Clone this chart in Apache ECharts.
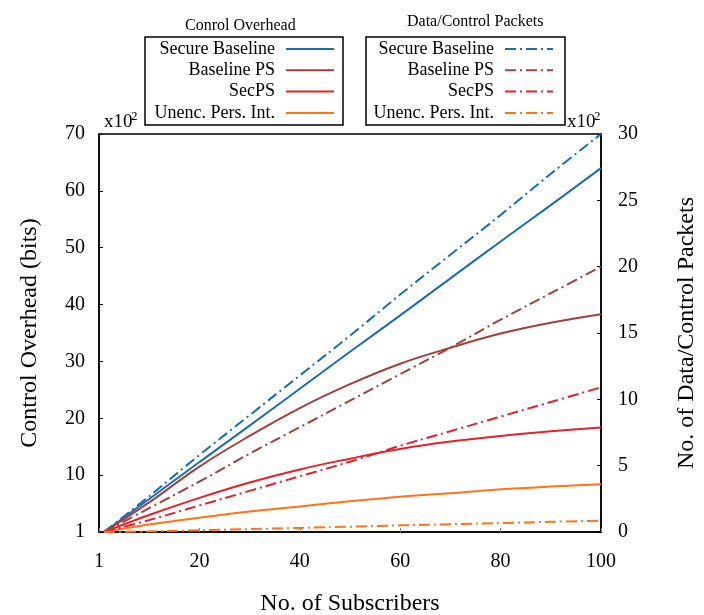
<!DOCTYPE html>
<html>
<head>
<meta charset="utf-8">
<script src="https://cdn.jsdelivr.net/npm/echarts@6/dist/echarts.min.js"></script>
<style>
html,body{margin:0;padding:0;background:#fff;}
#c{width:704px;height:615px;}
</style>
</head>
<body>
<div id="c"></div>
<script>
// Subscribers (x)
const subscribers = [1, 10, 20, 30, 40, 50, 60, 70, 80, 90, 100];
// Control overhead (bits, x10^2) - left axis, solid lines
const ctrlSecureBaseline = [0, 5.8, 12.3, 18.7, 25.2, 31.7, 38.1, 44.6, 51.1, 57.5, 64.0];
const ctrlBaselinePS     = [0, 5.2, 11.5, 16.9, 21.8, 26.0, 29.6, 32.4, 34.9, 36.8, 38.3];
const ctrlSecPS          = [0, 3.0, 6.0, 8.7, 11.0, 12.9, 14.6, 15.9, 16.9, 17.7, 18.4];
const ctrlUnenc          = [0, 1.3, 2.5, 3.6, 4.5, 5.4, 6.2, 6.8, 7.5, 8.0, 8.4];
// Data/Control packets (x10^2) - right axis, dash-dot lines
const pktSecureBaseline  = [0, 2.7, 5.8, 8.8, 11.8, 14.8, 17.9, 20.9, 23.9, 27.0, 30.0];
const pktBaselinePS      = [0, 1.8, 3.8, 5.9, 7.9, 9.9, 11.9, 13.9, 16.0, 18.0, 20.0];
const pktSecPS           = [0, 0.9, 2.0, 3.1, 4.2, 5.3, 6.5, 7.6, 8.7, 9.8, 10.9];
const pktUnenc           = [0, 0.05, 0.13, 0.22, 0.31, 0.40, 0.50, 0.59, 0.68, 0.77, 0.86];

const seriesNames = ['Secure Baseline', 'Baseline PS', 'SecPS', 'Unenc. Pers. Int.'];
const colors = ['#1B6DB3', '#A1413C', '#E2232C', '#FF7417'];
const ctrlData = [ctrlSecureBaseline, ctrlBaselinePS, ctrlSecPS, ctrlUnenc];
const pktData = [pktSecureBaseline, pktBaselinePS, pktSecPS, pktUnenc];

const FONT = '"Liberation Serif", "Times New Roman", serif';
const pair = arr => subscribers.map((x, i) => [x, arr[i]]);

const series = [];
seriesNames.forEach((n, i) => {
  series.push({
    name: n + '|ctrl', type: 'line', yAxisIndex: 0, smooth: 0.4,
    symbol: 'none', showSymbol: false, data: pair(ctrlData[i]),
    lineStyle: {color: colors[i], width: 2, type: 'solid'},
    itemStyle: {color: colors[i]}
  });
});
seriesNames.forEach((n, i) => {
  series.push({
    name: n + '|pkt', type: 'line', yAxisIndex: 1, smooth: 0.4,
    symbol: 'none', showSymbol: false, data: pair(pktData[i]),
    lineStyle: {color: colors[i], width: 2, type: [11, 4, 2, 4]},
    itemStyle: {color: colors[i]}
  });
});

const legendCommon = {
  orient: 'vertical', align: 'right', top: 37,
  itemWidth: 48, itemHeight: 14, itemGap: 3.3,
  borderColor: '#000', borderWidth: 1.5,
  itemStyle: {opacity: 0},
  formatter: name => name.split('|')[0],
  selectedMode: false
};

const chart = echarts.init(document.getElementById('c'), null, {renderer: 'canvas'});
chart.setOption({
  animation: false,
  backgroundColor: '#fff',
  textStyle: {fontFamily: FONT},
  grid: {left: 99, right: 103, top: 134, bottom: 83, containLabel: false, outerBoundsMode: 'none',
    show: true, borderColor: '#000', borderWidth: 1.5, backgroundColor: 'transparent'},
  legend: [
    Object.assign({}, legendCommon, {
      left: 145, padding: [3, 8, 3, 3],
      data: seriesNames.map(n => n + '|ctrl'),
      textStyle: {fontFamily: FONT, fontSize: 18, lineHeight: 16, color: '#000', width: 127, align: 'right', padding: [0, 6, 0, 0]}
    }),
    Object.assign({}, legendCommon, {
      left: 366, padding: [3, 11, 3, 3],
      data: seriesNames.map(n => n + '|pkt'),
      textStyle: {fontFamily: FONT, fontSize: 18, lineHeight: 16, color: '#000', width: 125, align: 'right', padding: [0, 6, 0, 0]}
    })
  ],
  xAxis: {
    type: 'value', min: 0, max: 100, interval: 20,
    name: 'No. of Subscribers', nameLocation: 'middle', nameGap: 60,
    nameTextStyle: {fontFamily: FONT, fontSize: 24, color: '#000'},
    axisLine: {show: true, lineStyle: {color: '#000', width: 1.5}},
    axisTick: {show: true, inside: true, length: 4, lineStyle: {color: '#888'}},
    axisLabel: {fontFamily: FONT, fontSize: 20, color: '#000', margin: 20,
      formatter: v => v === 0 ? '1' : String(v)},
    splitLine: {show: false}
  },
  yAxis: [
    {
      type: 'value', min: 0, max: 70, interval: 10, position: 'left',
      name: 'Control Overhead (bits)', nameLocation: 'middle', nameGap: 57, nameRotate: 90,
      nameTextStyle: {fontFamily: FONT, fontSize: 24, color: '#000'},
      axisLine: {show: true, lineStyle: {color: '#000', width: 1.5}},
      axisTick: {show: true, inside: true, length: 4, lineStyle: {color: '#000'}},
      axisLabel: {fontFamily: FONT, fontSize: 20, color: '#000', margin: 14,
        formatter: v => v === 0 ? '1' : String(v)},
      splitLine: {show: false}
    },
    {
      type: 'value', min: 0, max: 30, interval: 5, position: 'right',
      name: 'No. of Data/Control Packets', nameLocation: 'middle', nameGap: 74, nameRotate: 90,
      nameTextStyle: {fontFamily: FONT, fontSize: 24, color: '#000'},
      axisLine: {show: true, lineStyle: {color: '#000', width: 1.5}},
      axisTick: {show: true, inside: true, length: 4, lineStyle: {color: '#000'}},
      axisLabel: {fontFamily: FONT, fontSize: 20, color: '#000', margin: 17},
      splitLine: {show: false}
    }
  ],
  graphic: [
    {type: 'text', left: 185, top: 18, style: {text: 'Conrol Overhead', font: '16px ' + FONT, fill: '#000'}},
    {type: 'text', left: 407, top: 14, style: {text: 'Data/Control Packets', font: '16px ' + FONT, fill: '#000'}},
    {type: 'text', left: 104, top: 113, style: {text: 'x10', font: '19px ' + FONT, fill: '#000'}},
    {type: 'text', left: 131, top: 110, style: {text: '2', font: '13px ' + FONT, fill: '#000'}},
    {type: 'text', left: 567, top: 113, style: {text: 'x10', font: '19px ' + FONT, fill: '#000'}},
    {type: 'text', left: 594, top: 110, style: {text: '2', font: '13px ' + FONT, fill: '#000'}}
  ],
  series: series
});
</script>
</body>
</html>
